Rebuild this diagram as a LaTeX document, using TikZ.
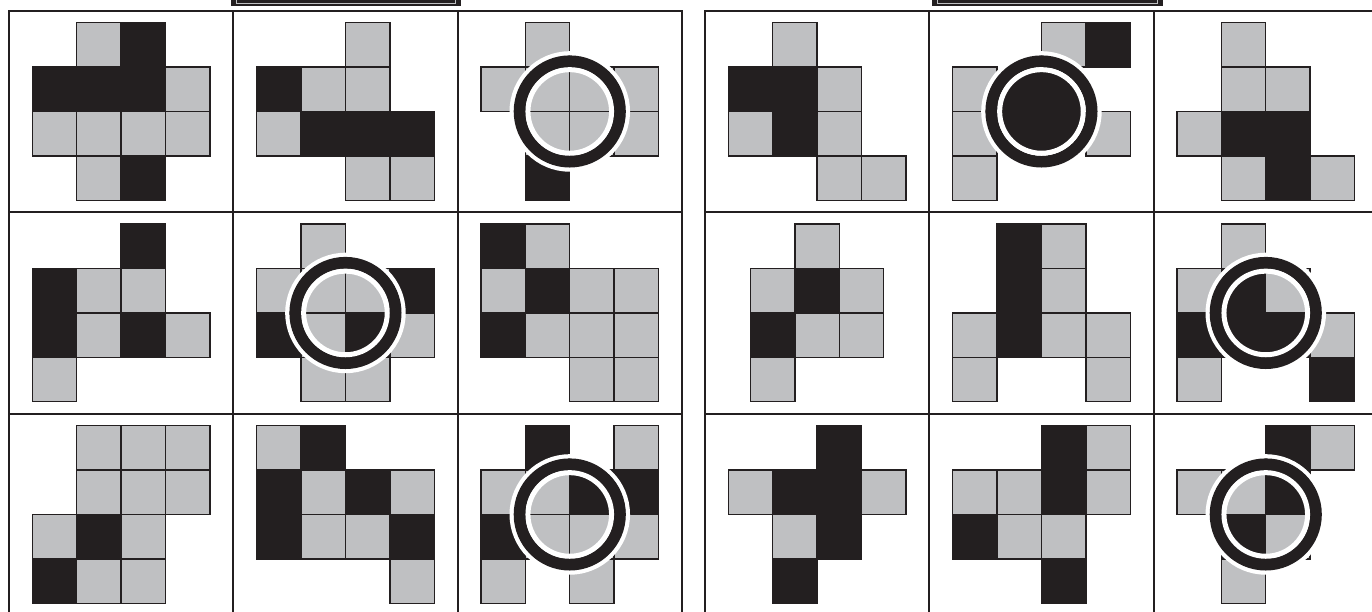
\documentclass[tikz,border=0pt]{standalone}
\definecolor{ink}{HTML}{231F20}
\definecolor{tile}{HTML}{BFC0C2}
\newcommand\sqsz{44.4}
\newcommand\mycell[4]{%
  \begin{scope}[shift={(#1+23.35+#3,#2+11.95)}]
    \foreach \r/\c/\k in {#4}{\path[\k] (\c*\sqsz,\r*\sqsz) rectangle ++(\sqsz,\sqsz);}
  \end{scope}}
\newcommand\myring[2]{%
  \begin{scope}[shift={(#1+23.35+88.8,#2+11.95+88.8)}]
    \draw[white,line width=4.5pt] (0,0) circle[radius=58pt];
    \draw[ink,line width=11.7pt] (0,0) circle[radius=50.2pt];
    \draw[white,line width=5pt] (0,0) circle[radius=41.8pt];
  \end{scope}}
\begin{document}
\begin{tikzpicture}[x=1pt,y=-1pt,
  G/.style={fill=tile,draw=ink,line width=1.4pt},
  B/.style={fill=ink,draw=ink,line width=1.4pt},
  frame/.style={draw=ink,line width=1.8pt},
  topbox/.style={fill=ink,draw=ink,line width=0.6pt},
  topline/.style={draw=tile,line width=0.8pt}]
\useasboundingbox (0,0) rectangle (1372,611);
\fill[white] (0,0) rectangle (1372,611);
% top boxes (cut off)
\path[topbox] (231,-20) rectangle (460,4.8);
\path[topline] (236,-20) rectangle (455,3.2);
\path[topbox] (932,-20) rectangle (1162,4.8);
\path[topline] (937,-20) rectangle (1157,3.2);
% frames
\foreach \xa/\xb in {9/682, 705/1378}{
  \draw[frame] (\xa,10.7) rectangle (\xb,615.2);
  \draw[frame] (\xa,212.2) -- (\xb,212.2);
  \draw[frame] (\xa,413.7) -- (\xb,413.7);
}
\foreach \x in {233.3,457.6,929.3,1153.6}{\draw[frame] (\x,10.7) -- (\x,615.2);}
% row 1
\mycell{9}{10.7}{0}{0/1/G,0/2/B,1/0/B,1/1/B,1/2/B,1/3/G,2/0/G,2/1/G,2/2/G,2/3/G,3/1/G,3/2/B}
\mycell{233.3}{10.7}{0}{0/2/G,1/0/B,1/1/G,1/2/G,2/0/G,2/1/B,2/2/B,2/3/B,3/2/G,3/3/G}
\mycell{457.6}{10.7}{0}{0/1/G,1/0/G,1/1/G,1/2/G,1/3/G,2/1/G,2/2/G,2/3/G,3/1/B}
\myring{457.6}{10.7}
\mycell{705}{10.7}{0}{0/1/G,1/0/B,1/1/B,1/2/G,2/0/G,2/1/B,2/2/G,3/2/G,3/3/G}
\mycell{929.3}{10.7}{0}{0/2/G,0/3/B,1/0/G,2/0/G,2/3/G,3/0/G}
\fill[ink] (929.3+23.35+88.8,10.7+11.95+88.8) circle[radius=40pt];
\myring{929.3}{10.7}
\mycell{1153.6}{10.7}{0}{0/1/G,1/1/G,1/2/G,2/0/G,2/1/B,2/2/B,3/1/G,3/2/B,3/3/G}
% row 2
\mycell{9}{212.2}{0}{0/2/B,1/0/B,1/1/G,1/2/G,2/0/B,2/1/G,2/2/B,2/3/G,3/0/G}
\mycell{233.3}{212.2}{0}{0/1/G,1/0/G,1/1/G,1/2/G,1/3/B,2/0/B,2/1/G,2/2/B,2/3/G,3/1/G,3/2/G}
\myring{233.3}{212.2}
\mycell{457.6}{212.2}{0}{0/0/B,0/1/G,1/0/G,1/1/B,1/2/G,1/3/G,2/0/B,2/1/G,2/2/G,2/3/G,3/2/G,3/3/G}
\mycell{705}{212.2}{22.2}{0/1/G,1/0/G,1/1/B,1/2/G,2/0/B,2/1/G,2/2/G,3/0/G}
\mycell{929.3}{212.2}{0}{0/1/B,0/2/G,1/1/B,1/2/G,2/0/G,2/1/B,2/2/G,2/3/G,3/0/G,3/3/G}
\mycell{1153.6}{212.2}{0}{0/1/G,1/0/G,1/1/B,1/2/G,2/0/B,2/1/B,2/2/B,2/3/G,3/0/G,3/3/B}
\myring{1153.6}{212.2}
% row 3
\mycell{9}{413.7}{0}{0/1/G,0/2/G,0/3/G,1/1/G,1/2/G,1/3/G,2/0/G,2/1/B,2/2/G,3/0/B,3/1/G,3/2/G}
\mycell{233.3}{413.7}{0}{0/0/G,0/1/B,1/0/B,1/1/G,1/2/B,1/3/G,2/0/B,2/1/G,2/2/G,2/3/B,3/3/G}
\mycell{457.6}{413.7}{0}{0/1/B,0/3/G,1/0/G,1/1/G,1/2/B,1/3/B,2/0/B,2/1/G,2/2/G,2/3/G,3/0/G,3/2/G}
\myring{457.6}{413.7}
\mycell{705}{413.7}{0}{0/2/B,1/0/G,1/1/B,1/2/B,1/3/G,2/1/G,2/2/B,3/1/B}
\mycell{929.3}{413.7}{0}{0/2/B,0/3/G,1/0/G,1/1/G,1/2/B,1/3/G,2/0/B,2/1/G,2/2/G,3/2/B}
\mycell{1153.6}{413.7}{0}{0/2/B,0/3/G,1/0/G,1/1/G,1/2/B,2/1/B,2/2/G,3/1/G}
\myring{1153.6}{413.7}
\end{tikzpicture}
\end{document}
